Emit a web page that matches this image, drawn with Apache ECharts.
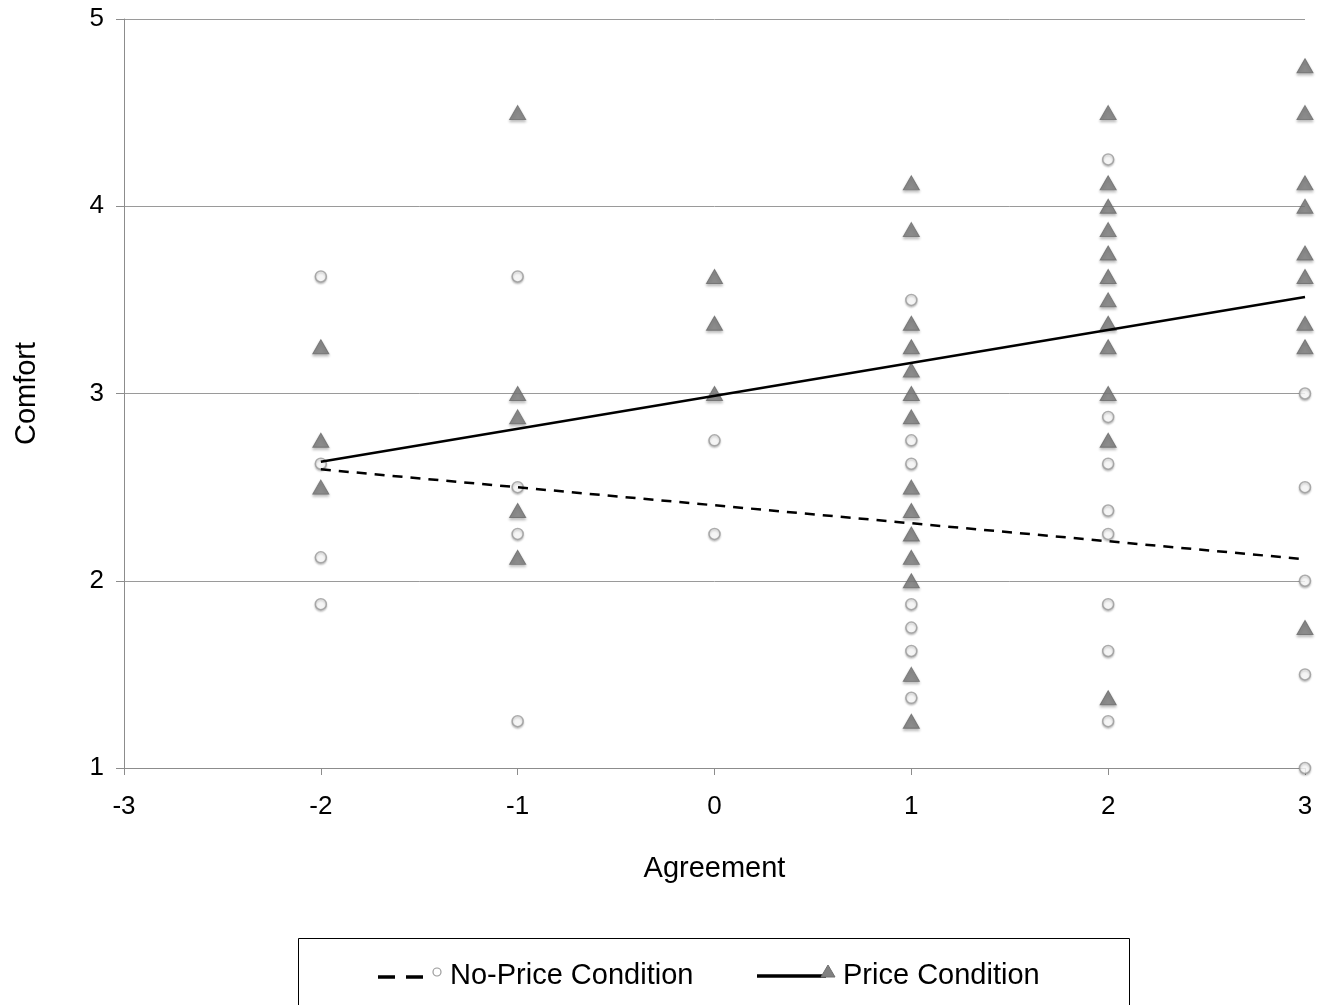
<!DOCTYPE html>
<html>
<head>
<meta charset="utf-8">
<script src="https://cdn.jsdelivr.net/npm/echarts@6/dist/echarts.min.js"></script>
<style>html,body{margin:0;padding:0;background:#fff}#c{width:1330px;height:1005px}</style>
</head>
<body>
<div id="c"></div>
<script>
// Agreement levels (x) and Comfort values (y)
var agreementLevels = [-2, -1, 0, 1, 2, 3];

// No-Price Condition (circles), comfort values per agreement level
var noPriceValues = [
  [3.625, 2.625, 2.125, 1.875],
  [3.625, 2.5, 2.25, 1.25],
  [2.75, 2.25],
  [3.5, 2.75, 2.625, 1.875, 1.75, 1.625, 1.375],
  [4.25, 2.875, 2.625, 2.375, 2.25, 1.875, 1.625, 1.25],
  [3.0, 2.5, 2.0, 1.5, 1.0]
];

// Price Condition (triangles), comfort values per agreement level
var priceValues = [
  [3.25, 2.75, 2.5],
  [4.5, 3.0, 2.875, 2.375, 2.125],
  [3.625, 3.375, 3.0],
  [4.125, 3.875, 3.375, 3.25, 3.125, 3.0, 2.875, 2.5, 2.375, 2.25, 2.125, 2.0, 1.5, 1.25],
  [4.5, 4.125, 4.0, 3.875, 3.75, 3.625, 3.5, 3.375, 3.25, 3.0, 2.75, 1.375],
  [4.75, 4.5, 4.125, 4.0, 3.75, 3.625, 3.375, 3.25, 1.75]
];

// Linear trend line endpoints
var trendX = [-2, 3];
var noPriceTrend = [2.595, 2.115];
var priceTrend = [2.635, 3.515];

var xTicks = [-3, -2, -1, 0, 1, 2, 3];
var yTicks = [1, 2, 3, 4, 5];

function toPoints(values) {
  var pts = [];
  values.forEach(function (col, i) {
    col.forEach(function (v) { pts.push([agreementLevels[i], v]); });
  });
  return pts;
}
function trendPoints(ys) {
  return trendX.map(function (x, i) { return [x, ys[i]]; });
}

var FONT = 'Liberation Sans, Arial, sans-serif';
var chart = echarts.init(document.getElementById('c'), null, {renderer: 'canvas'});

chart.setOption({
  animation: false,
  backgroundColor: '#ffffff',
  grid: {left: 124, right: 25, top: 19, bottom: 237, containLabel: false, outerBoundsMode: 'none'},
  xAxis: {
    type: 'value', min: xTicks[0], max: xTicks[xTicks.length - 1], interval: 1,
    name: 'Agreement', nameLocation: 'middle', nameGap: 86,
    nameTextStyle: {fontFamily: FONT, fontSize: 29, color: '#000'},
    axisLine: {show: true, onZero: false, lineStyle: {color: '#8c8c8c', width: 1}},
    axisTick: {show: true, length: 7, lineStyle: {color: '#8c8c8c'}},
    axisLabel: {fontFamily: FONT, fontSize: 26, color: '#000', margin: 26},
    splitLine: {show: false}
  },
  yAxis: {
    type: 'value', min: yTicks[0], max: yTicks[yTicks.length - 1], interval: 1,
    name: 'Comfort', nameLocation: 'middle', nameGap: 83, nameRotate: 90,
    nameTextStyle: {fontFamily: FONT, fontSize: 29, color: '#000'},
    axisLine: {show: true, onZero: false, lineStyle: {color: '#8c8c8c', width: 1}},
    axisTick: {show: true, length: 8, lineStyle: {color: '#8c8c8c'}},
    axisLabel: {fontFamily: FONT, fontSize: 26, color: '#000', margin: 20},
    splitLine: {show: true, lineStyle: {color: '#9a9a9a', width: 1}}
  },
  series: [
    {
      name: 'No-Price Condition', type: 'scatter', data: toPoints(noPriceValues),
      symbol: 'circle', symbolSize: 11, z: 3,
      itemStyle: {color: '#ffffff', borderColor: '#9a9a9a', borderWidth: 1.5,
        shadowColor: 'rgba(0,0,0,0.25)', shadowBlur: 2, shadowOffsetY: 1.5}
    },
    {
      name: 'Price Condition', type: 'scatter', data: toPoints(priceValues),
      symbol: 'triangle', symbolSize: [16, 14], z: 4,
      itemStyle: {color: '#7d7d7d', borderColor: '#6a6a6a', borderWidth: 1,
        shadowColor: 'rgba(0,0,0,0.3)', shadowBlur: 3, shadowOffsetY: 2}
    },
    {
      name: 'No-Price Trend', type: 'line', data: trendPoints(noPriceTrend),
      symbol: 'none', z: 5, silent: true,
      lineStyle: {color: '#000', width: 2.5, type: [10, 8]}
    },
    {
      name: 'Price Trend', type: 'line', data: trendPoints(priceTrend),
      symbol: 'none', z: 5, silent: true,
      lineStyle: {color: '#000', width: 2.5, type: 'solid'}
    }
  ],
  graphic: [
    {type: 'rect', shape: {x: 298.5, y: 938.5, width: 831, height: 80},
      style: {fill: '#fff', stroke: '#000', lineWidth: 1}},
    {type: 'line', shape: {x1: 378, y1: 977, x2: 423, y2: 977},
      style: {stroke: '#000', lineWidth: 3.5, lineDash: [17, 11]}},
    {type: 'circle', shape: {cx: 437, cy: 972, r: 4},
      style: {fill: '#fff', stroke: '#9a9a9a', lineWidth: 1.2}},
    {type: 'text', style: {x: 450, y: 976, text: 'No-Price Condition', fontFamily: FONT,
      fontSize: 29, fill: '#000', verticalAlign: 'middle', textAlign: 'left'}},
    {type: 'line', shape: {x1: 757, y1: 976, x2: 826, y2: 976},
      style: {stroke: '#000', lineWidth: 3.5}},
    {type: 'polygon', shape: {points: [[828, 965], [835, 977], [821, 977]]},
      style: {fill: '#808080', stroke: '#6e6e6e', lineWidth: 1}},
    {type: 'text', style: {x: 843, y: 976, text: 'Price Condition', fontFamily: FONT,
      fontSize: 29, fill: '#000', verticalAlign: 'middle', textAlign: 'left'}}
  ]
});
</script>
</body>
</html>
